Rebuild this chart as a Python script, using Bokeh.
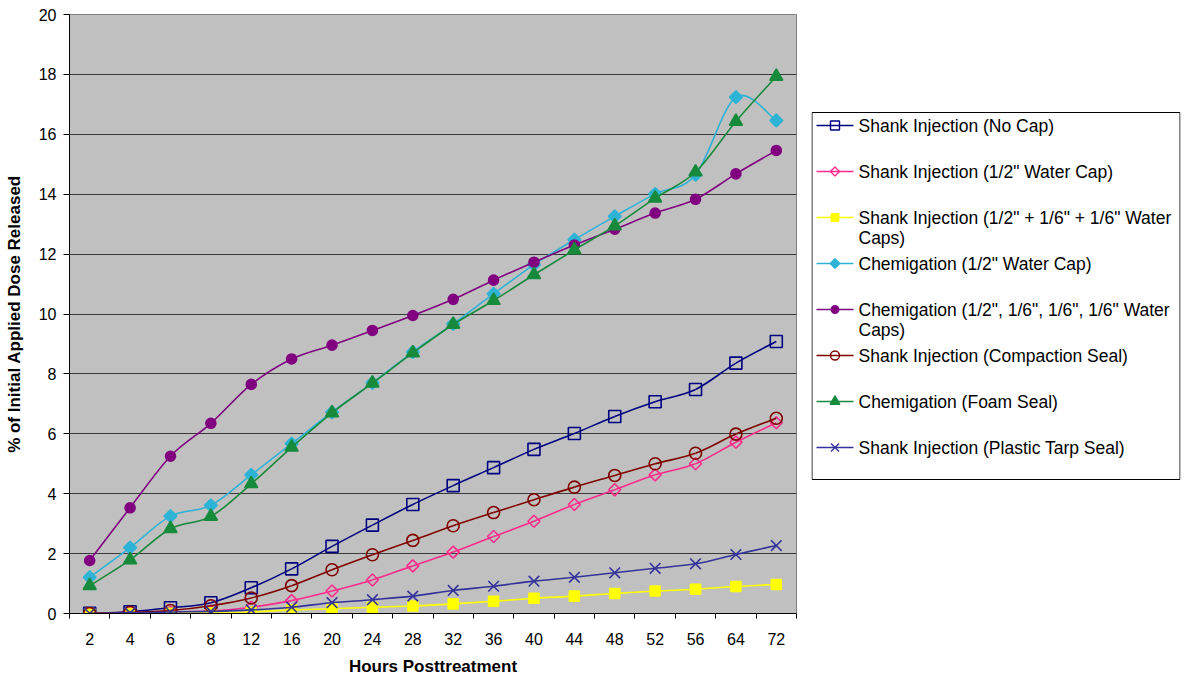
import numpy as np
from bokeh.plotting import figure
from bokeh.models import Range1d, FixedTicker
from bokeh.layouts import row
from bokeh.core.properties import value
from bokeh.embed import file_html
from bokeh.resources import INLINE

# Sampling times (hours after treatment)
hours = ["2", "4", "6", "8", "12", "16", "20", "24", "28", "32",
         "36", "40", "44", "48", "52", "56", "64", "72"]

# Cumulative % of the initial applied dose released
shank_no_cap = [0.01, 0.06, 0.19, 0.36, 0.86, 1.49, 2.24, 2.95, 3.64, 4.27,
                4.87, 5.48, 6.01, 6.58, 7.07, 7.48, 8.36, 9.08]
shank_half_cap = [0.0, 0.02, 0.05, 0.08, 0.21, 0.43, 0.75, 1.12, 1.59, 2.05,
                  2.57, 3.08, 3.64, 4.13, 4.63, 5.00, 5.72, 6.37]
shank_three_caps = [0.0, 0.0, 0.01, 0.02, 0.05, 0.12, 0.16, 0.21, 0.25, 0.32,
                    0.41, 0.51, 0.58, 0.67, 0.75, 0.81, 0.90, 0.97]
chem_half_cap = [1.21, 2.20, 3.25, 3.61, 4.63, 5.67, 6.72, 7.70, 8.73, 9.67,
                 10.67, 11.65, 12.48, 13.26, 14.01, 14.65, 17.24, 16.46]
chem_four_caps = [1.77, 3.53, 5.25, 6.35, 7.65, 8.50, 8.96, 9.45, 9.95, 10.49,
                  11.13, 11.73, 12.30, 12.83, 13.37, 13.83, 14.68, 15.46]
shank_compaction = [0.0, 0.04, 0.10, 0.26, 0.52, 0.93, 1.46, 1.96, 2.44, 2.93,
                    3.37, 3.80, 4.22, 4.61, 5.00, 5.35, 5.99, 6.52]
chem_foam = [0.93, 1.79, 2.83, 3.24, 4.33, 5.55, 6.70, 7.69, 8.70, 9.65,
             10.45, 11.31, 12.14, 12.94, 13.87, 14.74, 16.43, 17.93]
shank_tarp = [0.0, 0.02, 0.05, 0.07, 0.12, 0.21, 0.36, 0.46, 0.58, 0.77,
              0.91, 1.08, 1.21, 1.36, 1.51, 1.66, 1.97, 2.27]

series_labels = [
    "Shank Injection (No Cap)",
    "Shank Injection (1/2\" Water Cap)",
    "Shank Injection (1/2\" + 1/6\" + 1/6\" Water\nCaps)",
    "Chemigation (1/2\" Water Cap)",
    "Chemigation (1/2\", 1/6\", 1/6\", 1/6\" Water\nCaps)",
    "Shank Injection (Compaction Seal)",
    "Chemigation (Foam Seal)",
    "Shank Injection (Plastic Tarp Seal)",
]
series_values = [shank_no_cap, shank_half_cap, shank_three_caps, chem_half_cap,
                 chem_four_caps, shank_compaction, chem_foam, shank_tarp]

# (color, marker, filled, size, angle)
styles = [
    ("#000080", "square", False, 12, 0.0),
    ("#ff2a8c", "square", False, 8.5, np.pi / 4),
    ("#ffff00", "square", True, 10, 0.0),
    ("#2db3d6", "square", True, 9, np.pi / 4),
    ("#800080", "circle", True, 10, 0.0),
    ("#800000", "circle", False, 12, 0.0),
    ("#178a3c", "triangle", True, 13, 0.0),
    ("#333399", "x", False, 15, 0.0),
]

FONT = "Liberation Sans"
n = len(hours)
xc = np.arange(n) + 0.5          # category centres
edges = list(np.arange(n + 1))   # category boundaries (tick marks)

TOP, BOTTOM = 14, 65             # shared top/bottom borders of both panels


def smooth_segments(x, y):
    """Catmull-Rom style cubic Bezier pieces through the points."""
    x = np.asarray(x, float)
    y = np.asarray(y, float)
    xp = np.concatenate([[x[0]], x, [x[-1]]])
    yp = np.concatenate([[y[0]], y, [y[-1]]])
    x0, y0 = x[:-1], y[:-1]
    x1, y1 = x[1:], y[1:]
    cx0 = x0 + (xp[2:-1] - xp[:-3]) / 6.0
    cy0 = y0 + (yp[2:-1] - yp[:-3]) / 6.0
    cx1 = x1 - (xp[3:] - xp[1:-2]) / 6.0
    cy1 = y1 - (yp[3:] - yp[1:-2]) / 6.0
    return dict(x0=x0, y0=y0, x1=x1, y1=y1, cx0=cx0, cy0=cy0, cx1=cx1, cy1=cy1)


p = figure(width=800, height=678, output_backend="svg", toolbar_location=None,
           x_range=Range1d(0, n), y_range=Range1d(0, 20),
           min_border_left=69, min_border_right=4, min_border_top=TOP,
           min_border_bottom=BOTTOM)
p.background_fill_color = "#c0c0c0"
p.border_fill_color = "white"
p.outline_line_color = "#808080"
p.outline_line_width = 1

# axes
p.xaxis.ticker = FixedTicker(ticks=list(xc), minor_ticks=edges)
p.xaxis.major_label_overrides = {float(c): h for c, h in zip(xc, hours)}
p.xaxis.major_tick_out = 0
p.xaxis.major_tick_in = 0
p.xaxis.minor_tick_out = 5
p.xaxis.minor_tick_in = 0
p.xaxis.major_label_standoff = 14
p.xaxis.axis_label = "Hours Posttreatment"
p.xaxis.axis_label_standoff = 9

p.yaxis.ticker = FixedTicker(ticks=list(range(0, 21, 2)))
p.yaxis.major_tick_out = 6
p.yaxis.major_tick_in = 0
p.yaxis.minor_tick_out = 0
p.yaxis.minor_tick_in = 0
p.yaxis.major_label_standoff = 7
p.yaxis.axis_label = "% of Initial Applied Dose Released"
p.yaxis.axis_label_standoff = 12

for ax in (p.xaxis, p.yaxis):
    ax.axis_line_color = "black"
    ax.major_tick_line_color = "black"
    ax.minor_tick_line_color = "black"
    ax.major_label_text_font = FONT
    ax.major_label_text_font_size = "16px"
    ax.major_label_text_color = "black"
    ax.axis_label_text_font = FONT
    ax.axis_label_text_font_size = "17px"
    ax.axis_label_text_font_style = "bold"
    ax.axis_label_text_color = "black"

p.xgrid.grid_line_color = None
p.ygrid.grid_line_color = "#3a3a3a"
p.ygrid.grid_line_width = 1

for vals, (color, marker, filled, size, angle) in zip(series_values, styles):
    seg = smooth_segments(xc, vals)
    p.bezier(x0="x0", y0="y0", x1="x1", y1="y1", cx0="cx0", cy0="cy0",
             cx1="cx1", cy1="cy1", source=seg, line_color=color, line_width=1.6)
    p.scatter(x=xc, y=vals, marker=marker, size=size, angle=angle,
              line_color=color, line_width=1.6,
              fill_color=color if filled else None)

# legend panel: y measured downward in pixels from the top of its frame
frame_h = 678 - TOP - BOTTOM
box_top, box_bottom = 98, 465
slot = 46
first = box_top + 13
leg = figure(width=385, height=678, output_backend="svg", toolbar_location=None,
             x_range=Range1d(0, 369), y_range=Range1d(frame_h, 0),
             min_border_left=11, min_border_right=5, min_border_top=TOP,
             min_border_bottom=BOTTOM)
leg.axis.visible = False
leg.grid.visible = False
leg.outline_line_color = None
leg.background_fill_color = "white"
leg.border_fill_color = "white"
leg.quad(left=[0.5], right=[368.5], top=[box_top], bottom=[box_bottom],
         fill_color="white", line_color="black", line_width=1)

for i, (label, (color, marker, filled, size, angle)) in enumerate(zip(series_labels, styles)):
    yc = first + i * slot
    leg.segment(x0=[5], y0=[yc], x1=[42], y1=[yc], line_color=color, line_width=1.6)
    leg.scatter(x=[23.5], y=[yc], marker=marker, size=size * 0.75, angle=angle,
                line_color=color, line_width=1.4,
                fill_color=color if filled else None)
    lines = label.split("\n")
    leg.text(x=[47] * len(lines), y=[yc + k * 20 for k in range(len(lines))],
             text=lines, text_font=value(FONT), text_font_size="17.5px",
             text_baseline="middle", text_align="left", text_color="black")

layout = row(p, leg)
open("out.html", "w").write(file_html(layout, INLINE))
